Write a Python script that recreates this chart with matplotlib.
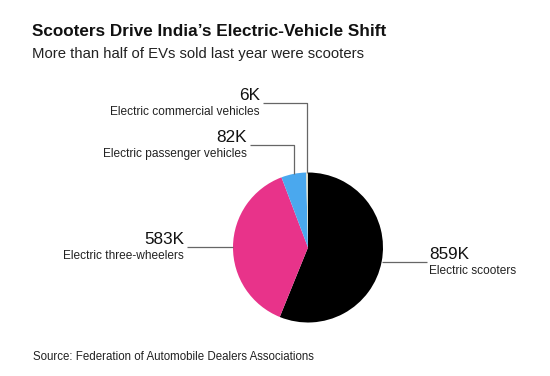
import numpy as np
import matplotlib.pyplot as plt

plt.rcParams['font.family'] = ['Liberation Sans', 'DejaVu Sans']

# data
categories = ['Electric scooters', 'Electric three-wheelers',
              'Electric passenger vehicles', 'Electric commercial vehicles']
sales_k = [859, 583, 82, 6]
value_labels = ['859K', '583K', '82K', '6K']
colors = ['#000000', '#e8338a', '#4aa8ee', '#dedcc4']

W, H = 550, 376
fig = plt.figure(figsize=(W / 100, H / 100), dpi=100)

# pie centre (308, 247.5) px, radius 75 px
cx, cy, r = 308, 247.5, 75
ax = fig.add_axes([(cx - r) / W, 1 - (cy + r) / H, 2 * r / W, 2 * r / H])
wedges, _ = ax.pie(sales_k, colors=colors, startangle=90, counterclock=False,
                   radius=1, wedgeprops=dict(linewidth=0))
ax.set_xlim(-1, 1)
ax.set_ylim(-1, 1)
ax.axis('off')

# leader geometry per slice: (elbow height or None, end x, side)
leaders = [(None, 1.587, 'right'),
           (None, -1.613, 'left'),
           (1.367, -0.773, 'left'),
           (1.927, -0.6, 'left')]

line_kw = dict(color='#666666', lw=0.9, clip_on=False, solid_capstyle='butt')
for w, cat, lab, (elbow, xend, side) in zip(wedges, categories, value_labels, leaders):
    mid = np.deg2rad((w.theta1 + w.theta2) / 2)
    x0, y0 = np.cos(mid), np.sin(mid)
    if elbow is None:
        xs, ys = [x0, xend], [y0, y0]
        yl = y0
    else:
        xs, ys = [x0, x0, xend], [y0, elbow, elbow]
        yl = elbow
    ax.plot(xs, ys, **line_kw)
    dx = 2 if side == 'right' else -3
    ha = 'left' if side == 'right' else 'right'
    ax.annotate(lab, (xend, yl), xytext=(dx, 3), textcoords='offset pixels',
                ha=ha, va='baseline', fontsize=12.3, color='#111111',
                annotation_clip=False)
    ax.annotate(cat, (xend, yl), xytext=(dx, -12), textcoords='offset pixels',
                ha=ha, va='baseline', fontsize=8.6, color='#222222',
                annotation_clip=False)

fig.text(32 / W, 1 - 36 / H, 'Scooters Drive India\u2019s Electric-Vehicle Shift',
         fontsize=12.3, fontweight='bold', va='baseline', ha='left', color='#111111')
fig.text(32 / W, 1 - 58 / H, 'More than half of EVs sold last year were scooters',
         fontsize=10.75, va='baseline', ha='left', color='#222222')
fig.text(33 / W, 1 - 360 / H, 'Source: Federation of Automobile Dealers Associations',
         fontsize=8.3, va='baseline', ha='left', color='#222222')

fig.savefig('out.png', dpi=100)
